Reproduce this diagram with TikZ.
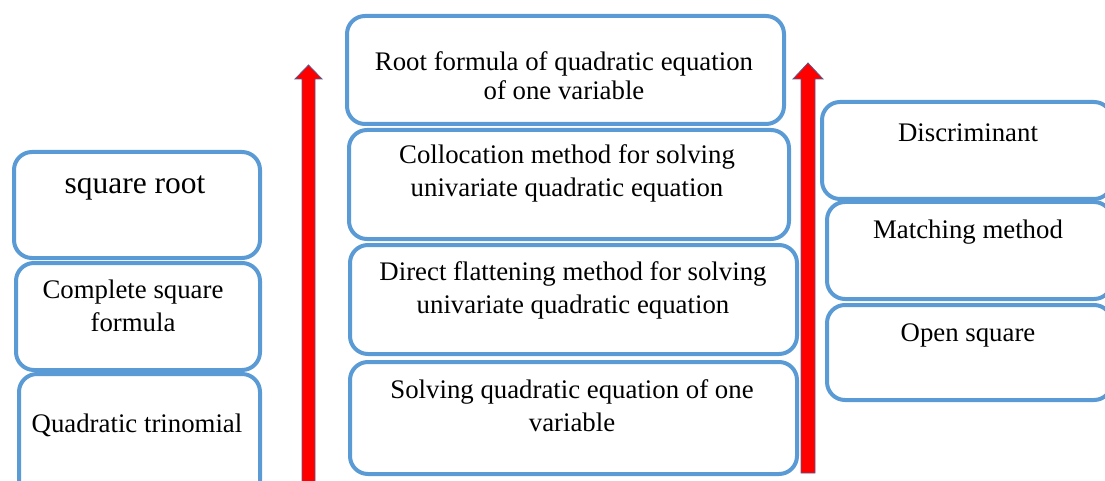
\documentclass[tikz,border=0pt]{standalone}
\usepackage{fontspec}
\setmainfont{Liberation Serif}
\definecolor{boxblue}{RGB}{91,155,213}
\definecolor{arrowedge}{RGB}{90,90,140}
\begin{document}
\begin{tikzpicture}[x=1pt,y=-1pt,
  box/.style={draw=boxblue,line width=4pt,rounded corners=18pt,fill=white,inner sep=0pt},
  txt/.style={font=\fontsize{26.8}{33}\selectfont,align=center,inner sep=0pt},
  bigtxt/.style={font=\fontsize{31.5}{36}\selectfont,align=center,inner sep=0pt},
  redarrow/.style={fill=red,draw=arrowedge,line width=0.8pt,line join=miter}]
\useasboundingbox (0,0) rectangle (1105,481);
\clip (0,0) rectangle (1105,481);
% left column
\node[box,anchor=north west,minimum width=246pt,minimum height=106pt] (L1) at (12,150) {};
\node[box,anchor=north west,minimum width=244pt,minimum height=107pt] (L2) at (14,261) {};
\node[box,anchor=north west,minimum width=241pt,minimum height=130pt] (L3) at (17,372) {};
\node[bigtxt] (tL1) at (135,188) {square root};
\node[txt] (tL2) at (133,306) {Complete square\\formula};
\node[txt] (tL3) at (137,425) {Quadratic trinomial};
% middle column
\node[box,anchor=north west,minimum width=437pt,minimum height=108pt] (M1) at (345,14) {};
\node[box,anchor=north west,minimum width=440pt,minimum height=109pt] (M2) at (347,128) {};
\node[box,anchor=north west,minimum width=447pt,minimum height=109pt] (M3) at (348,243) {};
\node[box,anchor=north west,minimum width=447pt,minimum height=112pt] (M4) at (348,360) {};
\node[txt,font=\fontsize{26.8}{29}\selectfont] (tM1) at (564,76) {Root formula of quadratic equation\\of one variable};
\node[txt] (tM2) at (567,173) {Collocation method for solving\\univariate quadratic equation};
\node[txt] (tM3) at (573,290) {Direct flattening method for solving\\univariate quadratic equation};
\node[txt] (tM4) at (572,406) {Solving quadratic equation of one\\variable};
% right column
\node[box,anchor=north west,minimum width=290pt,minimum height=97pt] (R1) at (820,100) {};
\node[box,anchor=north west,minimum width=285pt,minimum height=97pt] (R2) at (825,200) {};
\node[box,anchor=north west,minimum width=285pt,minimum height=95pt] (R3) at (825,303) {};
\node[txt] (tR1) at (968,133) {Discriminant};
\node[txt] (tR2) at (968,232) {Matching method};
\node[txt] (tR3) at (968,335) {Open square};
% arrows
\coordinate (A1b) at (308.5,485);
\coordinate (A1t) at (308.5,65);
\coordinate (A2b) at (808,473);
\coordinate (A2t) at (808,63);
\draw[redarrow] ([xshift=-6.5pt]A1b) -- ([xshift=-6.5pt,yshift=-14pt]A1t) -- ([xshift=-13.5pt,yshift=-14pt]A1t) -- (A1t)
  -- ([xshift=13.5pt,yshift=-14pt]A1t) -- ([xshift=6.5pt,yshift=-14pt]A1t) -- ([xshift=6.5pt]A1b) -- cycle;
\draw[redarrow] ([xshift=-7pt]A2b) -- ([xshift=-7pt,yshift=-16pt]A2t) -- ([xshift=-15pt,yshift=-16pt]A2t) -- (A2t)
  -- ([xshift=15pt,yshift=-16pt]A2t) -- ([xshift=7pt,yshift=-16pt]A2t) -- ([xshift=7pt]A2b) -- cycle;
\end{tikzpicture}
\end{document}
